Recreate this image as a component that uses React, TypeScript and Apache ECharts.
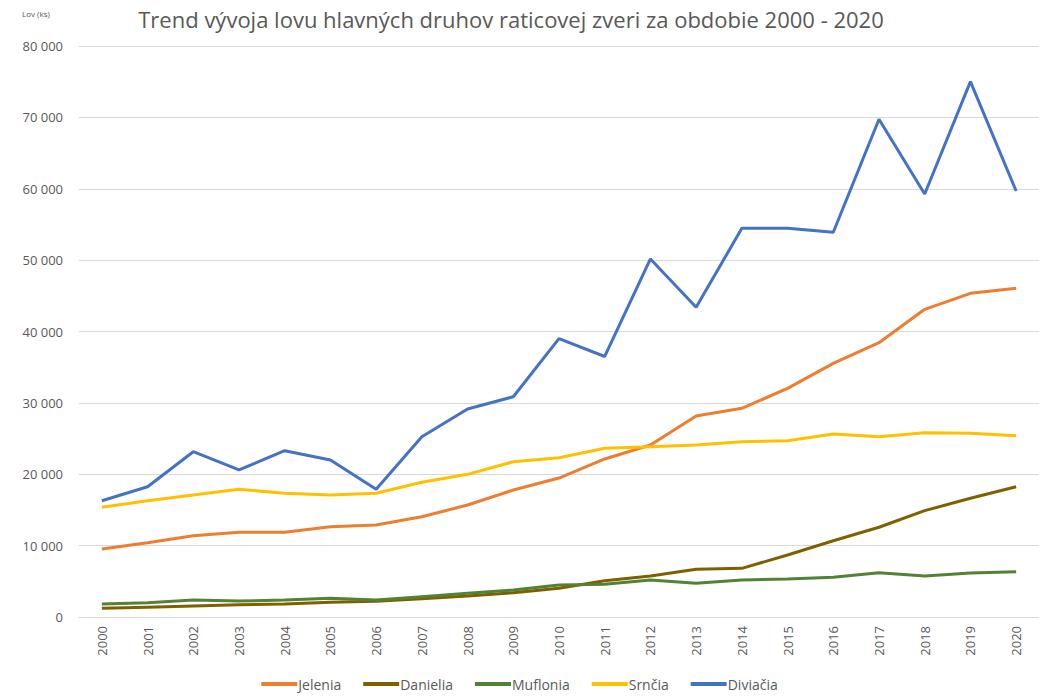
import React, { useEffect, useRef } from "react";
import * as echarts from "echarts";

const years = ["2000","2001","2002","2003","2004","2005","2006","2007","2008","2009","2010","2011","2012","2013","2014","2015","2016","2017","2018","2019","2020"];
const jelenia = [9530,10410,11390,11860,11860,12650,12890,14050,15690,17790,19470,22140,24100,28160,29240,32040,35540,38430,43110,45350,46050];
const danielia = [1220,1380,1540,1700,1820,2050,2200,2560,2940,3400,4020,5090,5740,6680,6820,8690,10690,12570,14900,16630,18250];
const muflonia = [1820,2000,2380,2240,2380,2620,2380,2850,3320,3780,4480,4580,5180,4720,5180,5320,5560,6210,5740,6150,6350];
const srncia = [15370,16300,17090,17890,17330,17090,17330,18870,19990,21760,22320,23630,23860,24100,24560,24700,25640,25260,25820,25730,25400];
const diviacia = [16290,18250,23160,20600,23300,22000,17890,25260,29140,30860,39000,36500,50160,43400,54460,54460,53900,69730,59260,75000,59680];

const seriesNames = ["Jelenia","Danielia","Muflonia","Srnčia","Diviačia"];
const seriesColors = ["#ED7D31","#7F6000","#548235","#FFC000","#4472C4"];
const seriesData = [jelenia, danielia, muflonia, srncia, diviacia];

const titleText = "Trend vývoja lovu hlavných druhov raticovej zveri za obdobie 2000 - 2020";
const yAxisName = "Lov (ks)";

const fmt = (v: number) => {
  const s = String(Math.round(v));
  return s.replace(/\B(?=(\d{3})+(?!\d))/g, " ");
};

export default function App() {
  const ref = useRef<HTMLDivElement>(null);
  useEffect(() => {
    if (!ref.current) return;
    const chart = echarts.init(ref.current, undefined, { renderer: "svg" });
    const font = "'Open Sans', 'Noto Sans', sans-serif";
    chart.setOption({
      animation: false,
      backgroundColor: "#ffffff",
      title: {
        text: titleText,
        left: 506,
        top: 3,
        textAlign: "center",
        textStyle: { fontFamily: font, fontSize: 22, fontWeight: "normal", color: "#595959" },
      },
      graphic: [
        {
          type: "text",
          left: 22,
          top: 9,
          style: { text: yAxisName, fontFamily: font, fontSize: 8, fill: "#595959" },
        },
      ],
      legend: {
        data: seriesNames,
        bottom: 0,
        left: "center",
        icon: "rect",
        itemWidth: 36,
        itemHeight: 4,
        itemGap: 22,
        textStyle: { fontFamily: font, fontSize: 14, color: "#595959", padding: [0, 0, 0, -4] },
      },
      grid: { left: 79, width: 962, top: 46, height: 571, containLabel: false },
      xAxis: {
        type: "category",
        data: years,
        boundaryGap: true,
        axisLine: { show: true, lineStyle: { color: "#d9d9d9", width: 1 } },
        axisTick: { show: false },
        axisLabel: { rotate: 90, fontFamily: font, fontSize: 13, color: "#595959", margin: 9 },
      },
      yAxis: {
        type: "value",
        min: 0,
        max: 80000,
        interval: 10000,
        axisLine: { show: false },
        axisTick: { show: false },
        splitLine: { lineStyle: { color: "#d9d9d9", width: 1 } },
        axisLabel: { fontFamily: font, fontSize: 13, color: "#595959", margin: 16, formatter: (v: number) => fmt(v) },
      },
      series: seriesNames.map((n, i) => ({
        name: n,
        type: "line",
        data: seriesData[i],
        symbol: "none",
        lineStyle: { color: seriesColors[i], width: 3 },
        itemStyle: { color: seriesColors[i] },
      })),
    });
    return () => chart.dispose();
  }, []);
  return <div ref={ref} style={{ position: "absolute", left: 0, top: 0, width: 1039, height: 696 }} />;
}
